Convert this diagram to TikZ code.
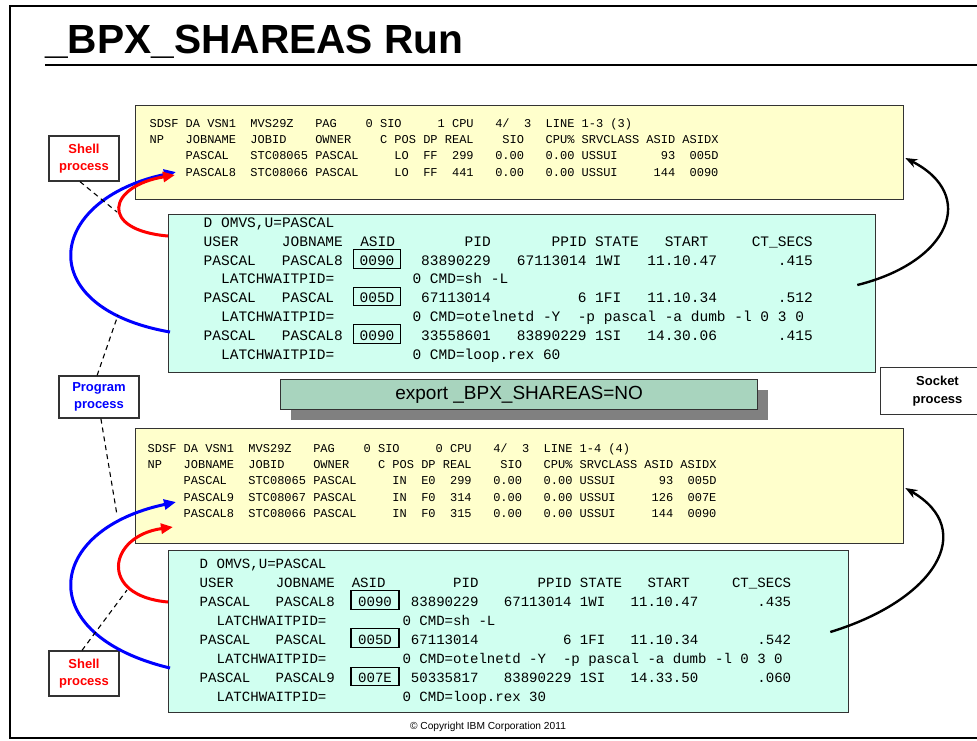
\documentclass[tikz,border=0pt]{standalone}
\usepackage{fontspec}
\setmainfont{Liberation Sans}
\newfontfamily\monofont{Liberation Mono}
\usetikzlibrary{arrows.meta,calc,shadows}
\frenchspacing

% fixed-pitch column placement for the console listings
\newlength\cw
\newcommand\putcol[2]{\rlap{\hspace*{#1\cw}#2}}

\definecolor{scrnyellow}{RGB}{255,255,204}
\definecolor{scrncyan}{RGB}{208,255,240}
\definecolor{cmdgreen}{RGB}{168,212,190}
\definecolor{boxline}{RGB}{51,51,51}
\definecolor{shadowgray}{RGB}{128,128,128}
\definecolor{shellred}{RGB}{255,0,0}
\definecolor{progblue}{RGB}{0,0,255}

\newcommand\sdsffont{\monofont\fontsize{12}{14}\selectfont\setlength\cw{7.2pt}}
\newcommand\omvsfontA{\monofont\fontsize{14.5}{17}\selectfont\setlength\cw{8.7pt}}
\newcommand\omvsfontB{\monofont\fontsize{14.08}{17}\selectfont\setlength\cw{8.45pt}}

\tikzset{
  screen/.style={draw=boxline, line width=1.3pt, anchor=north west, inner sep=0pt},
  sdsfbox/.style={screen, fill=scrnyellow},
  omvsbox/.style={screen, fill=scrncyan},
  txtrow/.style={anchor=base west, inner sep=0pt},
  asidbox/.style={draw=black, line width=1.1pt, anchor=base, inner sep=0pt,
    minimum width=47pt, text height=15.5pt, text depth=3.2pt},
  tag/.style={draw=boxline, line width=1.2pt, fill=white, align=center,
    font=\fontsize{13}{17}\selectfont\bfseries, inner sep=0pt,
    minimum width=70pt, minimum height=45pt},
  flow/.style={line width=3pt, -{Triangle[length=12pt,width=10pt]}},
  sockarrow/.style={line width=2.4pt, -{Stealth[length=12pt,width=9pt]}},
  leader/.style={line width=1.1pt, dash pattern=on 5pt off 4pt},
}

\begin{document}
\begin{tikzpicture}[x=1pt, y=-1pt]
\useasboundingbox (0,0) rectangle (977,740);

% slide frame and heading
\coordinate (edgeR) at (977,0);
\coordinate (frTL) at (10,6);
\coordinate (frBL) at (10,738);
\draw[line width=2pt] (frTL -| edgeR) -- (frTL) -- (frBL) -- (frBL -| edgeR);
\node[anchor=base west, inner sep=0pt, font=\fontsize{40.7}{44}\selectfont\bfseries]
  (title) at (45,53) {\_BPX\_SHAREAS Run};
\coordinate (ruleL) at (45,65);
\draw[line width=2.5pt] (ruleL) -- (ruleL -| edgeR);

% ---------- first run: SDSF display ----------
\node[sdsfbox, minimum width=768pt, minimum height=94pt] (sdsfA) at (135,105) {};
\node[txtrow, font=\sdsffont] (ya1) at (149,127.5) {\putcol{0}{SDSF DA VSN1}\putcol{14}{MVS29Z}\putcol{23}{PAG}\putcol{30}{0 SIO}\putcol{40}{1 CPU}\putcol{48}{4/}\putcol{52}{3}\putcol{55}{LINE 1-3 (3)}};
\node[txtrow, font=\sdsffont] (ya2) at (149,143.7) {\putcol{0}{NP}\putcol{5}{JOBNAME}\putcol{14}{JOBID}\putcol{23}{OWNER}\putcol{32}{C POS DP REAL}\putcol{49}{SIO}\putcol{55}{CPU\% SRVCLASS ASID ASIDX}};
\node[txtrow, font=\sdsffont] (ya3) at (149,159.9) {\putcol{5}{PASCAL}\putcol{14}{STC08065 PASCAL}\putcol{34}{LO}\putcol{38}{FF}\putcol{42}{299}\putcol{48}{0.00}\putcol{55}{0.00 USSUI}\putcol{71}{93}\putcol{75}{005D}};
\node[txtrow, font=\sdsffont] (ya4) at (149,176.1) {\putcol{5}{PASCAL8}\putcol{14}{STC08066 PASCAL}\putcol{34}{LO}\putcol{38}{FF}\putcol{42}{441}\putcol{48}{0.00}\putcol{55}{0.00 USSUI}\putcol{70}{144}\putcol{75}{0090}};

% ---------- first run: D OMVS display ----------
\node[omvsbox, minimum width=707pt, minimum height=158pt] (omvsA) at (168,214) {};
\node[txtrow, font=\omvsfontA] (ca1) at (203,227.5) {\putcol{0}{D OMVS,U=PASCAL}};
\node[txtrow, font=\omvsfontA] (ca2) at (203,246.3) {\putcol{0}{USER}\putcol{9}{JOBNAME}\putcol{18}{ASID}\putcol{30}{PID}\putcol{40}{PPID STATE}\putcol{53}{START}\putcol{63}{CT\_SECS}};
\node[txtrow, font=\omvsfontA] (ca3) at (203,265.1) {\putcol{0}{PASCAL}\putcol{9}{PASCAL8}\putcol{25}{83890229}\putcol{36}{67113014 1WI}\putcol{51}{11.10.47}\putcol{66}{.415}};
\node[txtrow, font=\omvsfontA] (ca4) at (203,283.9) {\putcol{2}{LATCHWAITPID=}\putcol{24}{0 CMD=sh -L}};
\node[txtrow, font=\omvsfontA] (ca5) at (203,302.7) {\putcol{0}{PASCAL}\putcol{9}{PASCAL}\putcol{25}{67113014}\putcol{43}{6 1FI}\putcol{51}{11.10.34}\putcol{66}{.512}};
\node[txtrow, font=\omvsfontA] (ca6) at (203,321.5) {\putcol{2}{LATCHWAITPID=}\putcol{24}{0 CMD=otelnetd -Y}\putcol{43}{-p pascal -a dumb -l 0 3 0}};
\node[txtrow, font=\omvsfontA] (ca7) at (203,340.3) {\putcol{0}{PASCAL}\putcol{9}{PASCAL8}\putcol{25}{33558601}\putcol{36}{83890229 1SI}\putcol{51}{14.30.06}\putcol{66}{.415}};
\node[txtrow, font=\omvsfontA] (ca8) at (203,359.1) {\putcol{2}{LATCHWAITPID=}\putcol{24}{0 CMD=loop.rex 60}};
\node[asidbox, font=\omvsfontA] (asA1) at (377,265.1) {0090};
\node[asidbox, font=\omvsfontA] (asA2) at (377,302.7) {005D};
\node[asidbox, font=\omvsfontA] (asA3) at (377,340.3) {0090};

% ---------- shell command ----------
\node[draw=boxline, line width=1.3pt, fill=cmdgreen, anchor=north west, inner sep=0pt,
  minimum width=477pt, minimum height=30pt, font=\fontsize{19}{22}\selectfont,
  drop shadow={shadow xshift=10pt, shadow yshift=-10pt, fill=shadowgray, opacity=1, draw=none}]
  (export) at (280,379) {export \_BPX\_SHAREAS=NO};

% ---------- second run: SDSF display ----------
\node[sdsfbox, minimum width=768pt, minimum height=115pt] (sdsfB) at (135,428) {};
\node[txtrow, font=\sdsffont] (yb1) at (147,452.5) {\putcol{0}{SDSF DA VSN1}\putcol{14}{MVS29Z}\putcol{23}{PAG}\putcol{30}{0 SIO}\putcol{40}{0 CPU}\putcol{48}{4/}\putcol{52}{3}\putcol{55}{LINE 1-4 (4)}};
\node[txtrow, font=\sdsffont] (yb2) at (147,468.7) {\putcol{0}{NP}\putcol{5}{JOBNAME}\putcol{14}{JOBID}\putcol{23}{OWNER}\putcol{32}{C POS DP REAL}\putcol{49}{SIO}\putcol{55}{CPU\% SRVCLASS ASID ASIDX}};
\node[txtrow, font=\sdsffont] (yb3) at (147,484.9) {\putcol{5}{PASCAL}\putcol{14}{STC08065 PASCAL}\putcol{34}{IN}\putcol{38}{E0}\putcol{42}{299}\putcol{48}{0.00}\putcol{55}{0.00 USSUI}\putcol{71}{93}\putcol{75}{005D}};
\node[txtrow, font=\sdsffont] (yb4) at (147,501.1) {\putcol{5}{PASCAL9}\putcol{14}{STC08067 PASCAL}\putcol{34}{IN}\putcol{38}{F0}\putcol{42}{314}\putcol{48}{0.00}\putcol{55}{0.00 USSUI}\putcol{70}{126}\putcol{75}{007E}};
\node[txtrow, font=\sdsffont] (yb5) at (147,517.3) {\putcol{5}{PASCAL8}\putcol{14}{STC08066 PASCAL}\putcol{34}{IN}\putcol{38}{F0}\putcol{42}{315}\putcol{48}{0.00}\putcol{55}{0.00 USSUI}\putcol{70}{144}\putcol{75}{0090}};

% ---------- second run: D OMVS display ----------
\node[omvsbox, minimum width=680pt, minimum height=162pt] (omvsB) at (168,550) {};
\node[txtrow, font=\omvsfontB] (cb1) at (199,568) {\putcol{0}{D OMVS,U=PASCAL}};
\node[txtrow, font=\omvsfontB] (cb2) at (199,587.1) {\putcol{0}{USER}\putcol{9}{JOBNAME}\putcol{18}{ASID}\putcol{30}{PID}\putcol{40}{PPID STATE}\putcol{53}{START}\putcol{63}{CT\_SECS}};
\node[txtrow, font=\omvsfontB] (cb3) at (199,606.2) {\putcol{0}{PASCAL}\putcol{9}{PASCAL8}\putcol{25}{83890229}\putcol{36}{67113014 1WI}\putcol{51}{11.10.47}\putcol{66}{.435}};
\node[txtrow, font=\omvsfontB] (cb4) at (199,625.3) {\putcol{2}{LATCHWAITPID=}\putcol{24}{0 CMD=sh -L}};
\node[txtrow, font=\omvsfontB] (cb5) at (199,644.4) {\putcol{0}{PASCAL}\putcol{9}{PASCAL}\putcol{25}{67113014}\putcol{43}{6 1FI}\putcol{51}{11.10.34}\putcol{66}{.542}};
\node[txtrow, font=\omvsfontB] (cb6) at (199,663.5) {\putcol{2}{LATCHWAITPID=}\putcol{24}{0 CMD=otelnetd -Y}\putcol{43}{-p pascal -a dumb -l 0 3 0}};
\node[txtrow, font=\omvsfontB] (cb7) at (199,682.6) {\putcol{0}{PASCAL}\putcol{9}{PASCAL9}\putcol{25}{50335817}\putcol{36}{83890229 1SI}\putcol{51}{14.33.50}\putcol{66}{.060}};
\node[txtrow, font=\omvsfontB] (cb8) at (199,701.7) {\putcol{2}{LATCHWAITPID=}\putcol{24}{0 CMD=loop.rex 30}};
\node[asidbox, font=\omvsfontB, minimum width=48pt] (asB1) at (375,606.2) {0090};
\node[asidbox, font=\omvsfontB, minimum width=48pt] (asB2) at (375,644.4) {005D};
\node[asidbox, font=\omvsfontB, minimum width=48pt] (asB3) at (375,682.6) {007E};

% ---------- process labels ----------
\node[tag, text=shellred] (shellA) at (84,158.5) {Shell\\process};
\node[tag, text=progblue, minimum width=80pt, minimum height=42pt] (prog) at (99,397) {Program\\process};
\node[tag, text=shellred] (shellB) at (84,673.5) {Shell\\process};
\node[draw=none, fill=white, align=center, inner sep=0pt, minimum width=113pt, minimum height=46pt,
  font=\fontsize{13}{18.5}\selectfont\bfseries] (sockLbl) at (937.5,391) {Socket\\process};
\draw[boxline, line width=1.2pt] (sockLbl.north west -| edgeR) -- (sockLbl.north west)
  -- (sockLbl.south west) -- (sockLbl.south west -| edgeR);

% ---------- process arrows, first run ----------
\coordinate (tipAb) at (176,172);
\coordinate (tipAr) at (175,175);
\draw[flow, progblue] ($(omvsA.north west)+(2,118)$) .. controls (32,308) and (45,200) .. (tipAb);
\draw[flow, shellred] ($(omvsA.north west)+(0,22)$) .. controls (98,230) and (108,186) .. (tipAr);
\draw[sockarrow] ($(omvsA.north east)+(-19,71)$) .. controls (950,262) and (978,195) .. ($(sdsfA.north east)+(1,53)$);

% ---------- process arrows, second run ----------
\coordinate (tipBb) at (176,502);
\coordinate (tipBr) at (173,527);
\draw[flow, progblue] ($(omvsB.north west)+(2,118)$) .. controls (32,635) and (45,530) .. (tipBb);
\draw[flow, shellred] ($(omvsB.north west)+(0,52)$) .. controls (98,596) and (108,536) .. (tipBr);
\draw[sockarrow] ($(omvsB.north east)+(-19,82)$) .. controls (935,600) and (978,530) .. ($(sdsfB.north east)+(1,60)$);

% ---------- leader lines from the labels ----------
\coordinate (dShellA) at (117,212);
\coordinate (dProgUp) at (118,315);
\coordinate (dProgDn) at (117,515);
\coordinate (dShellB) at (127,590);
\draw[leader] (shellA.-100) -- (dShellA);
\draw[leader] (prog.95) -- (dProgUp);
\draw[leader] (prog.-85) -- (dProgDn);
\draw[leader] (shellB.95) -- (dShellB);

% footer
\node[font=\fontsize{10.2}{12}\selectfont, inner sep=0pt] (copyr) at (488,727) {\textcopyright{} Copyright IBM Corporation 2011};
\end{tikzpicture}
\end{document}
